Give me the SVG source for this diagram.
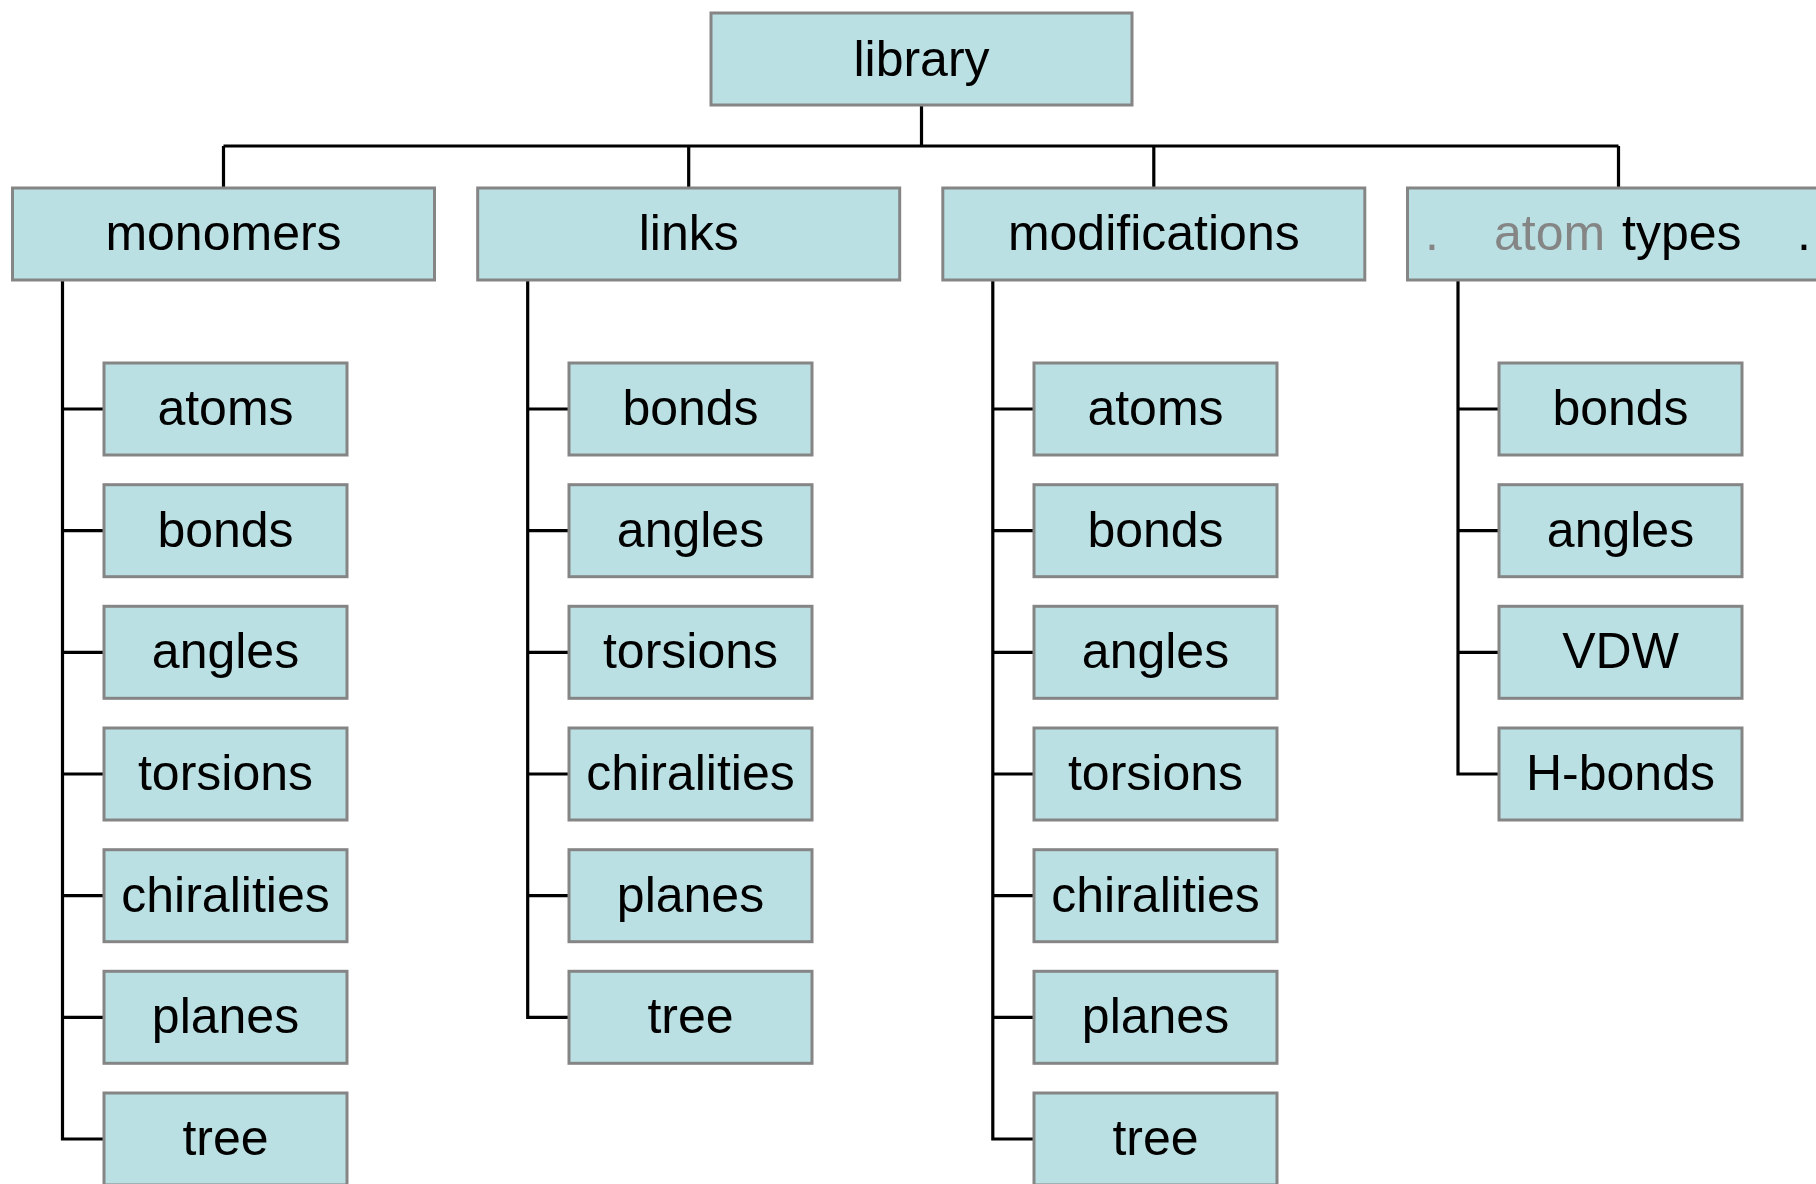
<svg xmlns="http://www.w3.org/2000/svg" width="1816" height="1184" viewBox="0 0 1816 1184">
  <style>
    .box { fill: #bae0e3; stroke: #858585; stroke-width: 3; }
    .lbl { font-family: "Liberation Sans", Arial, sans-serif; font-size: 50px; fill: #000; text-anchor: middle; }
    .dim { fill: #858585; }
    .wire { fill: none; stroke: #000; stroke-width: 3.2; }
  </style>

  <rect width="1816" height="1184" fill="#fff"/>

  <!-- connectors -->
  <g id="connectors" class="wire">
    <path d="M921.5 105 V146 M223.5 146 H1618.5 M223.5 146 V188 M688.7 146 V188 M1153.8 146 V188 M1618.5 146 V188"/>
    <!-- monomers -->
    <path d="M62.5 280 V1139 H104 M62.5 409 H104 M62.5 530.7 H104 M62.5 652.3 H104 M62.5 774 H104 M62.5 895.7 H104 M62.5 1017.3 H104"/>
    <!-- links -->
    <path d="M527.7 280 V1017.3 H569 M527.7 409 H569 M527.7 530.7 H569 M527.7 652.3 H569 M527.7 774 H569 M527.7 895.7 H569"/>
    <!-- modifications -->
    <path d="M992.8 280 V1139 H1034 M992.8 409 H1034 M992.8 530.7 H1034 M992.8 652.3 H1034 M992.8 774 H1034 M992.8 895.7 H1034 M992.8 1017.3 H1034"/>
    <!-- atom types -->
    <path d="M1458 280 V774 H1499 M1458 409 H1499 M1458 530.7 H1499 M1458 652.3 H1499"/>
  </g>

  <!-- root -->
  <g id="library"><rect class="box" x="711" y="13" width="421" height="92"/><text class="lbl" x="921.5" y="76">library</text></g>

  <!-- first level -->
  <g id="monomers"><rect class="box" x="12.5" y="188" width="422" height="92"/><text class="lbl" x="223.5" y="250">monomers</text></g>
  <g id="links"><rect class="box" x="477.7" y="188" width="422" height="92"/><text class="lbl" x="688.7" y="250">links</text></g>
  <g id="modifications"><rect class="box" x="942.8" y="188" width="422" height="92"/><text class="lbl" x="1153.8" y="250">modifications</text></g>
  <g id="atom-types"><rect class="box" x="1407.5" y="188" width="422" height="92"/>
    <text class="lbl" y="250" style="text-anchor:start"><tspan class="dim" x="1425">.</tspan><tspan class="dim" x="1494">atom</tspan><tspan x="1622">types</tspan><tspan x="1797">.</tspan></text>
  </g>

  <!-- monomers children -->
  <g id="mono-atoms"><rect class="box" x="104" y="363" width="243" height="92"/><text class="lbl" x="225.5" y="425">atoms</text></g>
  <g id="mono-bonds"><rect class="box" x="104" y="484.7" width="243" height="92"/><text class="lbl" x="225.5" y="546.7">bonds</text></g>
  <g id="mono-angles"><rect class="box" x="104" y="606.3" width="243" height="92"/><text class="lbl" x="225.5" y="668.3">angles</text></g>
  <g id="mono-torsions"><rect class="box" x="104" y="728" width="243" height="92"/><text class="lbl" x="225.5" y="790">torsions</text></g>
  <g id="mono-chiralities"><rect class="box" x="104" y="849.7" width="243" height="92"/><text class="lbl" x="225.5" y="911.7">chiralities</text></g>
  <g id="mono-planes"><rect class="box" x="104" y="971.3" width="243" height="92"/><text class="lbl" x="225.5" y="1033.3">planes</text></g>
  <g id="mono-tree"><rect class="box" x="104" y="1093" width="243" height="92"/><text class="lbl" x="225.5" y="1155">tree</text></g>

  <!-- links children -->
  <g id="link-bonds"><rect class="box" x="569" y="363" width="243" height="92"/><text class="lbl" x="690.5" y="425">bonds</text></g>
  <g id="link-angles"><rect class="box" x="569" y="484.7" width="243" height="92"/><text class="lbl" x="690.5" y="546.7">angles</text></g>
  <g id="link-torsions"><rect class="box" x="569" y="606.3" width="243" height="92"/><text class="lbl" x="690.5" y="668.3">torsions</text></g>
  <g id="link-chiralities"><rect class="box" x="569" y="728" width="243" height="92"/><text class="lbl" x="690.5" y="790">chiralities</text></g>
  <g id="link-planes"><rect class="box" x="569" y="849.7" width="243" height="92"/><text class="lbl" x="690.5" y="911.7">planes</text></g>
  <g id="link-tree"><rect class="box" x="569" y="971.3" width="243" height="92"/><text class="lbl" x="690.5" y="1033.3">tree</text></g>

  <!-- modifications children -->
  <g id="mod-atoms"><rect class="box" x="1034" y="363" width="243" height="92"/><text class="lbl" x="1155.5" y="425">atoms</text></g>
  <g id="mod-bonds"><rect class="box" x="1034" y="484.7" width="243" height="92"/><text class="lbl" x="1155.5" y="546.7">bonds</text></g>
  <g id="mod-angles"><rect class="box" x="1034" y="606.3" width="243" height="92"/><text class="lbl" x="1155.5" y="668.3">angles</text></g>
  <g id="mod-torsions"><rect class="box" x="1034" y="728" width="243" height="92"/><text class="lbl" x="1155.5" y="790">torsions</text></g>
  <g id="mod-chiralities"><rect class="box" x="1034" y="849.7" width="243" height="92"/><text class="lbl" x="1155.5" y="911.7">chiralities</text></g>
  <g id="mod-planes"><rect class="box" x="1034" y="971.3" width="243" height="92"/><text class="lbl" x="1155.5" y="1033.3">planes</text></g>
  <g id="mod-tree"><rect class="box" x="1034" y="1093" width="243" height="92"/><text class="lbl" x="1155.5" y="1155">tree</text></g>

  <!-- atom types children -->
  <g id="type-bonds"><rect class="box" x="1499" y="363" width="243" height="92"/><text class="lbl" x="1620.5" y="425">bonds</text></g>
  <g id="type-angles"><rect class="box" x="1499" y="484.7" width="243" height="92"/><text class="lbl" x="1620.5" y="546.7">angles</text></g>
  <g id="type-vdw"><rect class="box" x="1499" y="606.3" width="243" height="92"/><text class="lbl" x="1620.5" y="668.3">VDW</text></g>
  <g id="type-hbonds"><rect class="box" x="1499" y="728" width="243" height="92"/><text class="lbl" x="1620.5" y="790">H-bonds</text></g>
</svg>
